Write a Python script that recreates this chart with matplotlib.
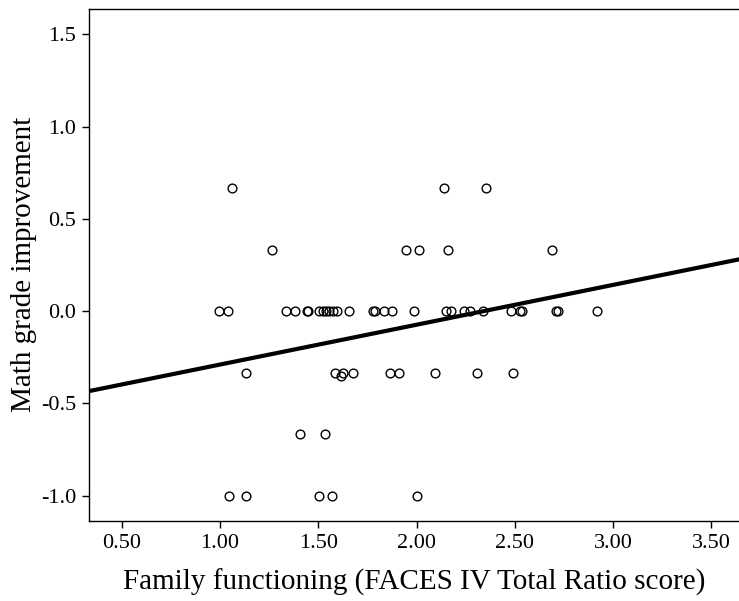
import numpy as np
import matplotlib
matplotlib.use('Agg')
import matplotlib.pyplot as plt

# FACES IV total ratio score vs. change in math grade, grouped by grade change
x_zero = [0.995, 1.041, 1.336, 1.382, 1.445, 1.450, 1.505, 1.522, 1.539, 1.557,
          1.575, 1.594, 1.656, 1.776, 1.787, 1.834, 1.875, 1.985, 2.150, 2.175,
          2.241, 2.272, 2.338, 2.480, 2.526, 2.536, 2.709, 2.719, 2.917]
x_up_third = [1.264, 1.948, 2.011, 2.161, 2.687]
x_up_two_thirds = [1.061, 2.139, 2.353]
x_down_third = [1.132, 1.585, 1.626, 1.676, 1.865, 1.912, 2.094, 2.308, 2.492]
x_down_two_thirds = [1.407, 1.534]
x_down_one = [1.046, 1.131, 1.505, 1.570, 2.002]
# one case sits a little below the -1/3 row
x_extra = [1.615]
y_extra = [-0.35]

groups = [
    (x_zero, 0.0),
    (x_up_third, 0.333),
    (x_up_two_thirds, 0.667),
    (x_down_third, -0.333),
    (x_down_two_thirds, -0.667),
    (x_down_one, -1.0),
]

# fit line
fit_intercept = -0.506
fit_slope = 0.216

xticks = [0.5, 1.0, 1.5, 2.0, 2.5, 3.0, 3.5]
yticks = [-1.0, -0.5, 0.0, 0.5, 1.0, 1.5]

plt.rcParams['font.family'] = ['Liberation Serif', 'DejaVu Serif']

fig = plt.figure(figsize=(7.39, 6.01), dpi=100)
ax = fig.add_axes([0.1204, 0.1331, 0.8796, 0.8527])

xs = []
ys = []
for gx, gy in groups:
    xs += gx
    ys += [gy] * len(gx)
xs += x_extra
ys += y_extra

ax.plot(xs, ys, 'o', ms=6.3, mfc='none', mec='black', mew=1.0, zorder=3)
ax.axline((0, fit_intercept), slope=fit_slope, color='black', lw=3, zorder=2)

ax.set_xlim(0.334, 3.64)
ax.set_ylim(-1.138, 1.640)
ax.set_xticks(xticks)
ax.set_xticklabels(['%.2f' % t for t in xticks])
ax.set_yticks(yticks)
ax.set_yticklabels(['%.1f' % t for t in yticks])

ax.spines['right'].set_visible(False)
for s in ['left', 'bottom', 'top']:
    ax.spines[s].set_linewidth(1.0)
ax.tick_params(direction='out', length=5, width=1, labelsize=16, pad=4)

ax.set_xlabel('Family functioning (FACES IV Total Ratio score)', fontsize=21, labelpad=12)
ax.set_ylabel('Math grade improvement', fontsize=21, labelpad=3)

fig.savefig('out.png', dpi=100)
